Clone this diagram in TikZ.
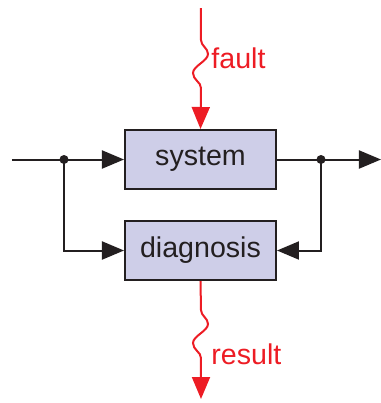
\documentclass[tikz,border=0pt]{standalone}
\usepackage{fontspec}
\setmainfont{Liberation Sans}
\usetikzlibrary{arrows.meta}
\definecolor{boxfill}{RGB}{206,206,232}
\definecolor{edge}{RGB}{35,31,32}
\definecolor{sig}{RGB}{237,28,36}
\begin{document}
\begin{tikzpicture}[x=0.5pt,y=-0.5pt,
  block/.style={draw=edge,line width=1pt,fill=boxfill,minimum width=75.5pt,minimum height=29.5pt,inner sep=0pt,font=\fontsize{14.3}{16}\selectfont,text=edge},
  wire/.style={draw=edge,line width=1pt},
  tip/.style={-{Triangle[length=11pt,width=9pt]}},
  redwire/.style={draw=sig,line width=1pt},
  lbl/.style={text=sig,anchor=west,inner sep=0pt,font=\fontsize{14.3}{16}\selectfont},
  junction/.style={circle,fill=edge,inner sep=0pt,minimum size=4.5pt}]
\useasboundingbox (0,0) rectangle (381,403);
% blocks
\node[block] (sys) at (200.5,159.5) {system};
\node[block] (diag) at (200.5,250.5) {diagnosis};
% junctions and free ends
\coordinate (in) at (12,159.5);
\coordinate (out) at (381,159.5);
\node[junction] (jl) at (64,159.5) {};
\node[junction] (jr) at (321,159.5) {};
% black signal paths
\draw[wire] (in) -- (jl.center);
\draw[wire,tip] (jl.center) -- (sys.west);
\draw[wire] (sys.east) -- (jr.center);
\draw[wire,tip] (jr.center) -- (out);
\draw[wire,tip] (jl.center) |- (diag.west);
\draw[wire,tip] (jr.center) |- (diag.east);
% fault input with wavy segment
\coordinate (ftop) at (201,8);
\draw[redwire,tip] (ftop) -- (201,40)
  .. controls (201,46) and (208,48) .. (208,54)
  .. controls (208,61) and (193,66) .. (193,73)
  .. controls (193,80) and (201,82) .. (201,88) -- (sys.north);
\node[lbl] (flbl) at (211,58) {fault};
% diagnosis result with wavy segment
\coordinate (rend) at (201,399);
\draw[redwire,tip] (diag.south) -- (201,310)
  .. controls (201,316) and (208,318) .. (208,324)
  .. controls (208,331) and (193,336) .. (193,343)
  .. controls (193,350) and (201,352) .. (201,358) -- (rend);
\node[lbl] (rlbl) at (211,354) {result};
\end{tikzpicture}
\end{document}
